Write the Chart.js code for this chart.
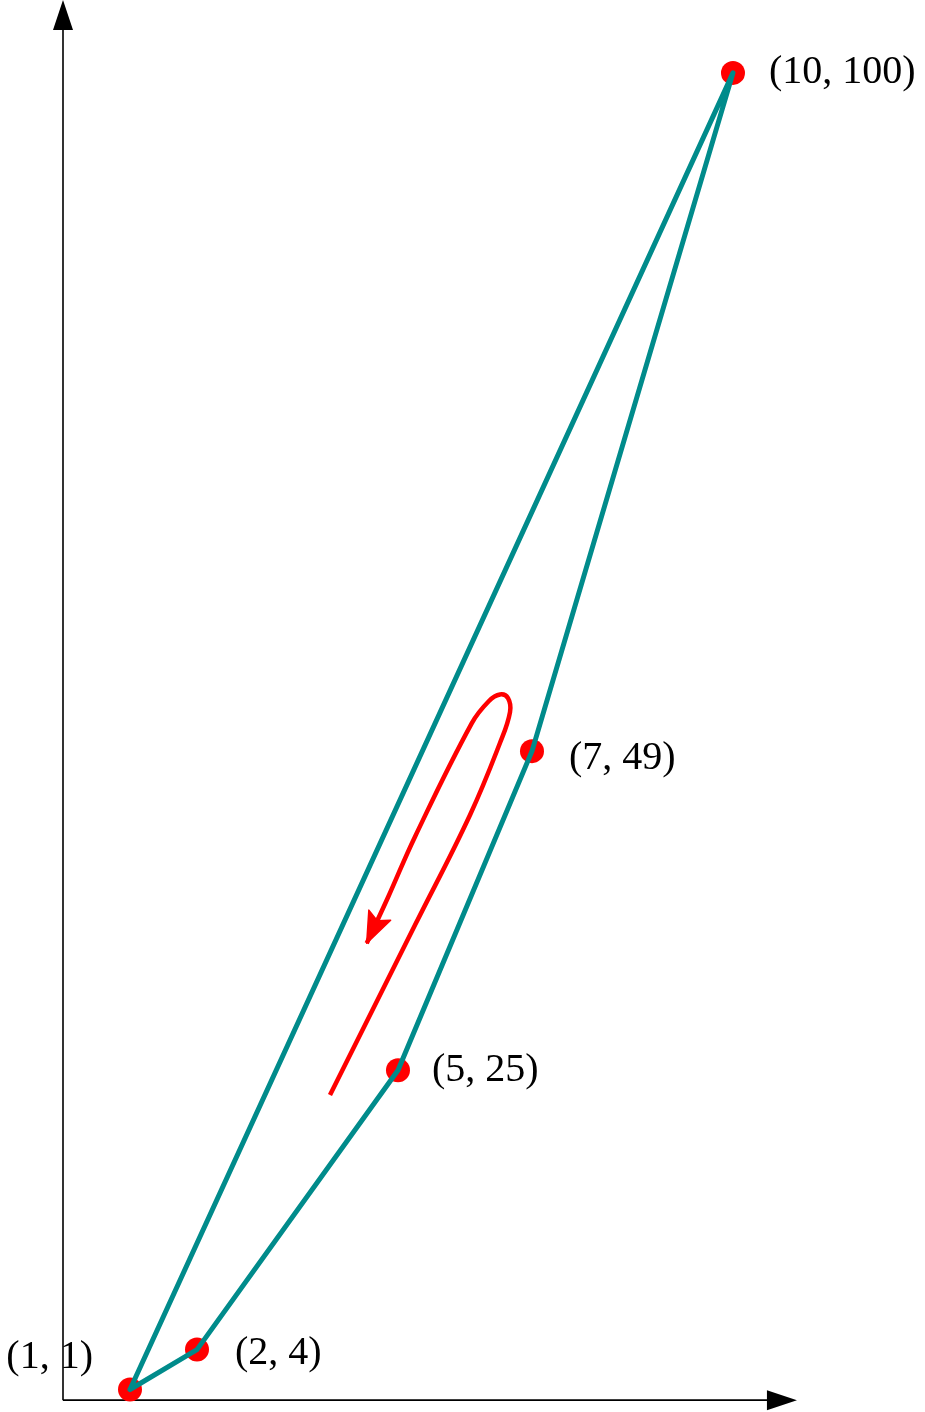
<!DOCTYPE html>
<html>
<head>
<meta charset="utf-8">
<script src="https://cdn.jsdelivr.net/npm/chart.js@4.4.1/dist/chart.umd.min.js"></script>
<style>
html,body{margin:0;padding:0;background:#fff;overflow:hidden;width:925px;height:1412px;}
#c{display:block;}
</style>
</head>
<body>
<canvas id="c" width="925" height="1412" style="width:925px;height:1412px"></canvas>
<script>
// ---- data ----
const xValues = [1, 2, 5, 7, 10];
const yValues = [1, 4, 25, 49, 100];
const pointLabels = ["(1, 1)", "(2, 4)", "(5, 25)", "(7, 49)", "(10, 100)"];
const loopOrder = [0, 1, 2, 3, 4, 0];           // closed path through the points
const curveX = [3.985, 5.254, 6.075, 6.522, 6.672, 6.642, 6.522, 6.358, 6.100, 5.254, 4.855, 4.533];
const curveY = [23.14, 35.92, 44.20, 49.61, 51.94, 52.99, 53.26, 52.77, 51.09, 42.57, 38.05, 34.55];

// ---- styles ----
const TEAL = '#008b8b';
const RED = '#ff0000';
const FONT = '40px "Liberation Serif", "DejaVu Serif", serif';
const labelStyle = {
  align: ['right', 'left', 'left', 'left', 'left'],
  dx: [-37, 38, 34, 37, 36],
  dy: [-22, 14, 11, 18, 10]
};
const axisStyle = { xEnd: 10.955, yEnd: 105.48, originY: 0.2, head: 30, half: 10 };

const polygon = loopOrder.map(i => ({ x: xValues[i], y: yValues[i] }));
const dots = xValues.map((x, i) => ({ x: x, y: yValues[i] }));
const curve = curveX.map((x, i) => ({ x: x, y: curveY[i] }));

const axesPlugin = {
  id: 'axes',
  beforeDatasetsDraw(chart) {
    const ctx = chart.ctx, xs = chart.scales.x, ys = chart.scales.y;
    const ox = xs.getPixelForValue(0), oy = ys.getPixelForValue(axisStyle.originY);
    const xe = xs.getPixelForValue(axisStyle.xEnd), ye = ys.getPixelForValue(axisStyle.yEnd);
    const h = axisStyle.head, w = axisStyle.half;
    ctx.save();
    ctx.strokeStyle = '#000'; ctx.fillStyle = '#000'; ctx.lineWidth = 1.6;
    ctx.beginPath();
    ctx.moveTo(ox, oy); ctx.lineTo(xe - h + 2, oy);
    ctx.moveTo(ox, oy); ctx.lineTo(ox, ye + h - 2);
    ctx.stroke();
    ctx.beginPath();
    ctx.moveTo(xe, oy); ctx.lineTo(xe - h, oy - w); ctx.lineTo(xe - h, oy + w); ctx.closePath();
    ctx.fill();
    ctx.beginPath();
    ctx.moveTo(ox, ye); ctx.lineTo(ox - w, ye + h); ctx.lineTo(ox + w, ye + h); ctx.closePath();
    ctx.fill();
    ctx.restore();
  }
};

const decoPlugin = {
  id: 'deco',
  afterDatasetsDraw(chart) {
    const ctx = chart.ctx;
    // arrow head at end of red curve
    const cm = chart.getDatasetMeta(2).data;
    const n = cm.length;
    const tip = cm[n - 1], prev = cm[n - 2];
    const ang = Math.atan2(tip.y - prev.y, tip.x - prev.x);
    const L = 31, W = 12, notch = 6;
    ctx.save();
    ctx.translate(tip.x, tip.y);
    ctx.rotate(ang);
    ctx.fillStyle = RED;
    ctx.strokeStyle = RED;
    ctx.lineWidth = 1.5;
    ctx.lineJoin = 'round';
    ctx.beginPath();
    ctx.moveTo(0, 0);
    ctx.lineTo(-L, -W);
    ctx.lineTo(-L + notch, 0);
    ctx.lineTo(-L, W);
    ctx.closePath();
    ctx.fill();
    ctx.stroke();
    ctx.restore();
    // labels
    const pm = chart.getDatasetMeta(1).data;
    ctx.save();
    ctx.font = FONT;
    ctx.fillStyle = '#000';
    ctx.textBaseline = 'alphabetic';
    pm.forEach((p, i) => {
      ctx.textAlign = labelStyle.align[i];
      ctx.fillText(pointLabels[i], p.x + labelStyle.dx[i], p.y + labelStyle.dy[i]);
    });
    ctx.restore();
  }
};

new Chart(document.getElementById('c'), {
  type: 'scatter',
  data: {
    datasets: [
      { data: polygon, showLine: true, borderColor: TEAL, borderWidth: 5, pointRadius: 0,
        tension: 0, borderJoinStyle: 'round', borderCapStyle: 'round', fill: false },
      { data: dots, showLine: false, pointRadius: 12, pointBackgroundColor: RED,
        pointBorderWidth: 0, pointBorderColor: RED },
      { data: curve, showLine: true, borderColor: RED, borderWidth: 4.5, pointRadius: 0,
        tension: 0.4, fill: false }
    ]
  },
  options: {
    responsive: false,
    animation: false,
    events: [],
    devicePixelRatio: 1,
    layout: { autoPadding: false, padding: { left: 63, right: 0, top: 0, bottom: 9.2 } },
    scales: {
      x: { type: 'linear', min: 0, max: 12.866, display: false },
      y: { type: 'linear', min: 0, max: 105.48, display: false }
    },
    plugins: { legend: { display: false }, tooltip: { enabled: false } },
    clip: false
  },
  plugins: [axesPlugin, decoPlugin]
});
</script>
</body>
</html>
